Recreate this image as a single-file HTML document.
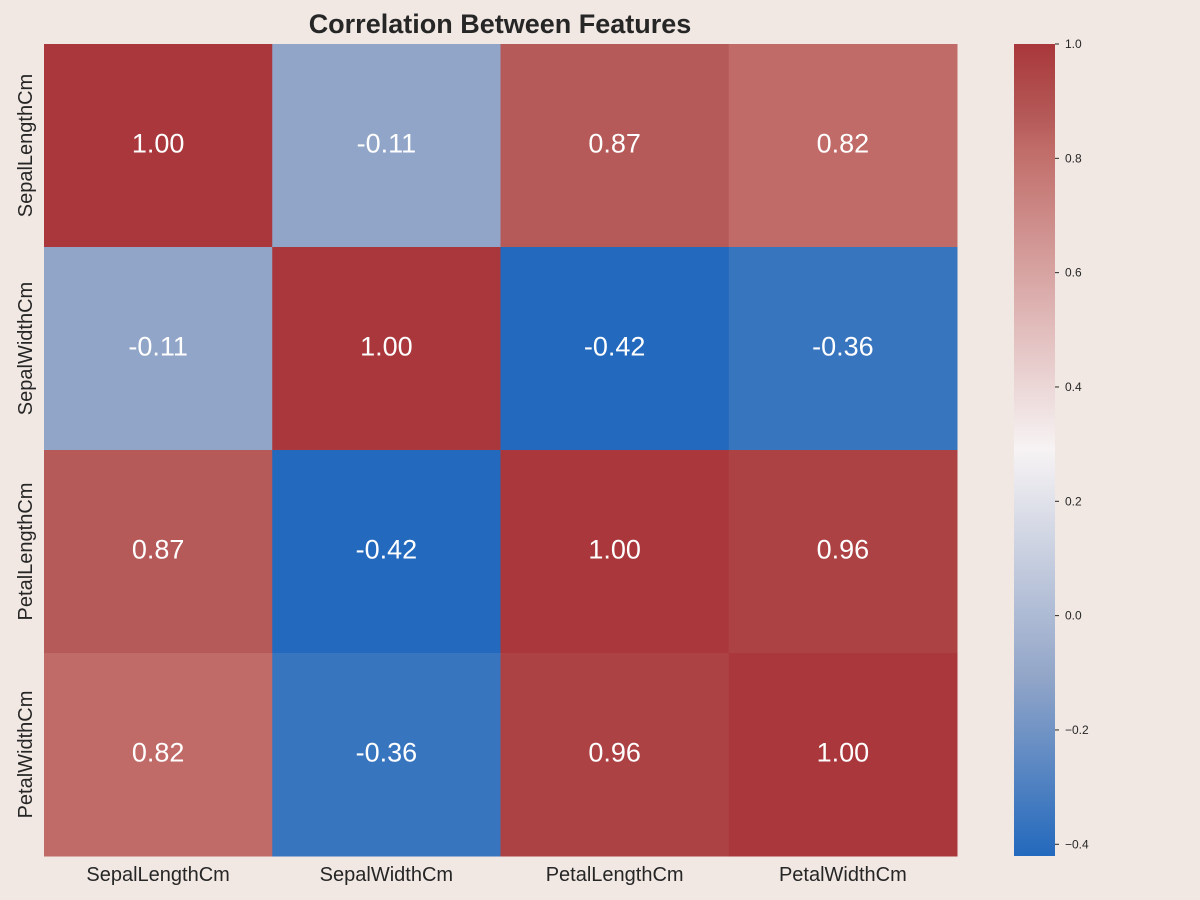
<!DOCTYPE html>
<html><head><meta charset="utf-8"><style>
body{margin:0;background:#f1e8e3;}
svg{display:block;font-family:"Liberation Sans",sans-serif;}
</style></head><body>
<svg id="chart" width="1200" height="900" viewBox="0 0 1200 900">
<rect width="1200" height="900" fill="#f1e8e3"/>
<text x="500" y="33" text-anchor="middle" font-size="27" font-weight="bold" fill="#262626">Correlation Between Features</text>
<defs><linearGradient id="cbg" x1="0" y1="1" x2="0" y2="0">
<stop offset="0" stop-color="#2369bd"/><stop offset="0.218" stop-color="#91a5c8"/><stop offset="0.5" stop-color="#f7f3f4"/><stop offset="0.873" stop-color="#c06b67"/><stop offset="0.908" stop-color="#b55a58"/><stop offset="1" stop-color="#a9373b"/>
</linearGradient></defs>
<g id="cells"></g>
<rect x="1014" y="44" width="41" height="812" fill="url(#cbg)"/>
<g id="cbticks"></g>
</svg>
<script>
const labels=["SepalLengthCm","SepalWidthCm","PetalLengthCm","PetalWidthCm"];
const row0=[1.00,-0.11,0.87,0.82];
const row1=[-0.11,1.00,-0.42,-0.36];
const row2=[0.87,-0.42,1.00,0.96];
const row3=[0.82,-0.36,0.96,1.00];
const matrix=[row0,row1,row2,row3];
const cbTicks=[-0.4,-0.2,0.0,0.2,0.4,0.6,0.8,1.0];
const vmin=-0.4205, vmax=1.0;
const X0=44,X1=957,Y0=44,Y1=856;
const cw=(X1-X0)/labels.length, ch=(Y1-Y0)/labels.length;
const stops=[[0,[0x23,0x69,0xbd]],[0.218,[0x91,0xa5,0xc8]],[0.5,[0xf7,0xf3,0xf4]],[0.873,[0xc0,0x6b,0x67]],[0.908,[0xb5,0x5a,0x58]],[1,[0xa9,0x37,0x3b]]];
function color(v){let t=Math.max(0,Math.min(1,(v-vmin)/(vmax-vmin)));
for(let i=1;i<stops.length;i++){if(t<=stops[i][0]){const a=stops[i-1],b=stops[i];const f=(t-a[0])/(b[0]-a[0]);
return "rgb("+a[1].map((c,k)=>Math.round(c+(b[1][k]-c)*f)).join(",")+")";}}return "rgb(169,55,59)";}
const NS="http://www.w3.org/2000/svg";
const g=document.getElementById("cells");
matrix.forEach((row,r)=>row.forEach((v,c)=>{
const rc=document.createElementNS(NS,"rect");


rc.setAttribute("x",X0+c*cw);rc.setAttribute("y",Y0+r*ch);rc.setAttribute("width",cw+0.5);rc.setAttribute("height",ch+0.5);rc.setAttribute("fill",color(v));g.appendChild(rc);
const t=document.createElementNS(NS,"text");


t.setAttribute("x",X0+(c+0.5)*cw);t.setAttribute("y",Y0+(r+0.5)*ch+7);t.setAttribute("text-anchor","middle");t.setAttribute("font-size","27");t.setAttribute("fill","#fff");
t.textContent=(v<0?"-":"")+Math.abs(v).toFixed(2);g.appendChild(t);}));
labels.forEach((l,i)=>{
const t=document.createElementNS(NS,"text");


t.setAttribute("x",X0+(i+0.5)*cw);t.setAttribute("y",881);t.setAttribute("text-anchor","middle");t.setAttribute("font-size","20");t.setAttribute("fill","#262626");t.textContent=l;g.appendChild(t);
const y=document.createElementNS(NS,"text");


const cx=32,cy=Y0+(i+0.5)*ch;
y.setAttribute("x",cx);y.setAttribute("y",cy);y.setAttribute("text-anchor","middle");y.setAttribute("font-size","20");y.setAttribute("fill","#262626");y.setAttribute("transform","rotate(-90 "+cx+" "+cy+")");y.textContent=l;g.appendChild(y);});
const cb=document.getElementById("cbticks");
cbTicks.forEach(v=>{const y=Y1-(v-vmin)/(vmax-vmin)*(Y1-Y0);
const ln=document.createElementNS(NS,"line");


ln.setAttribute("x1",1055);ln.setAttribute("x2",1059);ln.setAttribute("y1",y);ln.setAttribute("y2",y);ln.setAttribute("stroke","#262626");cb.appendChild(ln);
const t=document.createElementNS(NS,"text");


t.setAttribute("x",1065);t.setAttribute("y",y+4);t.setAttribute("font-size","12");t.setAttribute("fill","#262626");
t.textContent=(v<0?"\u2212":"")+Math.abs(v).toFixed(1);cb.appendChild(t);});
</script>
</body></html>
